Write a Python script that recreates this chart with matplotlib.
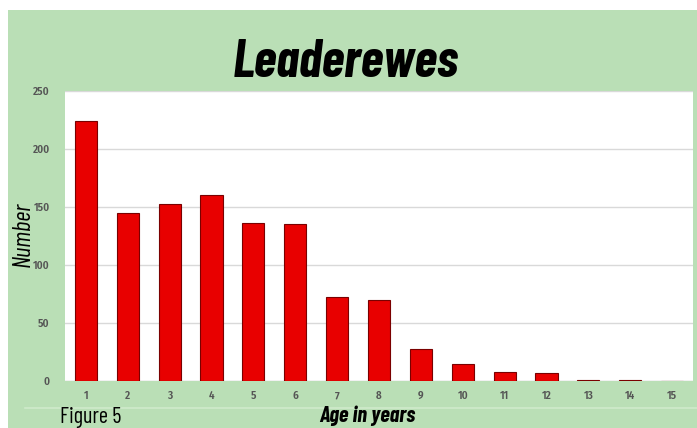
import matplotlib
matplotlib.use("Agg")
import matplotlib.pyplot as plt
from matplotlib.patches import Rectangle

ages = [str(i) for i in range(1, 16)]
counts = [224, 145, 153, 160, 136, 135, 72, 70, 28, 15, 8, 7, 1, 1, 0]
yticks = [0, 50, 100, 150, 200, 250]

W, H = 697, 428
fig = plt.figure(figsize=(W/100, H/100), dpi=100)
fig.patch.set_facecolor("white")
green = "#badfb6"
fig.add_artist(Rectangle((8/W, 0), 1 - 8/W, 1 - 10/H, transform=fig.transFigure,
                         facecolor=green, edgecolor="none", zorder=0))
fig.add_artist(plt.Line2D([25/W, 1], [1 - 408/H, 1 - 408/H], transform=fig.transFigure,
                          color="#cfeacb", lw=1.2, zorder=0.5))

narrow = ["Barlow Condensed", "Fira Sans Condensed", "DejaVu Sans"]
ticks_font = ["Fira Sans Condensed", "Barlow Condensed", "DejaVu Sans"]

ax = fig.add_axes([65/W, 1 - 381/H, (693-65)/W, (381-91)/H])
ax.set_zorder(2)
ax.set_facecolor("white")
x = list(range(len(ages)))
ax.bar(x, counts, width=0.53, color="#e80000", edgecolor="#7a0000", linewidth=0.8, zorder=3)
ax.set_xlim(-0.5, len(ages) - 0.5)
ax.set_ylim(0, 250)
ax.set_yticks(yticks)
ax.set_yticklabels([str(v) for v in yticks], fontsize=8, color="#555555", family=ticks_font,
                   fontweight="semibold")
ax.set_xticks(x)
ax.set_xticklabels(ages, fontsize=8, color="#555555", family=ticks_font, fontweight="semibold")
ax.tick_params(axis="y", length=0, pad=11)
ax.tick_params(axis="x", length=0, pad=7)
ax.grid(axis="y", color="#d9d9d9", lw=1, zorder=0)
for s in ax.spines.values():
    s.set_visible(False)
ax.axhline(0, color="#d9d9d9", lw=1, zorder=2)

fig.text(346/W, 1 - 77/H, "Leaderewes", ha="center", va="baseline", fontsize=38,
         fontweight="bold", fontstyle="italic", family=narrow, color="black", zorder=5)
fig.text(23/W, 1 - 234/H, "Number", ha="center", va="center", rotation=90,
         fontsize=18, fontstyle="italic", family=narrow, color="black", zorder=5)
fig.text(60/W, 1 - 423/H, "Figure 5", ha="left", va="baseline", fontsize=16,
         family=narrow, color="black", zorder=5)
fig.text(367/W, 1 - 422/H, "Age in years", ha="center", va="baseline", fontsize=16,
         fontweight="bold", fontstyle="italic", family=narrow, color="black", zorder=5)

fig.savefig("out.png", dpi=100, facecolor=fig.get_facecolor())
